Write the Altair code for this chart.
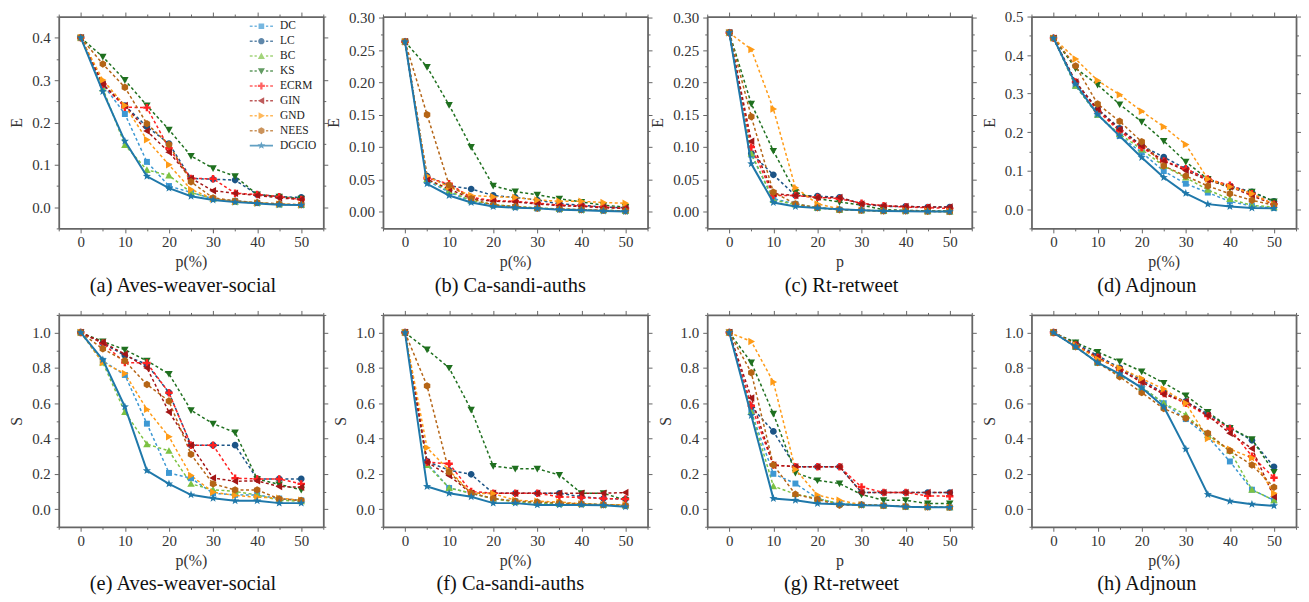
import math
import altair as alt
import pandas as pd

# ---------------- data ----------------
P = [0, 5, 10, 15, 20, 25, 30, 35, 40, 45, 50]
SERIES = ["DC", "LC", "BC", "KS", "ECRM", "GIN", "GND", "NEES", "DGCIO"]
COLORS = ["#3d98d3", "#1b5486", "#7cc243", "#1f701f", "#ff2121",
          "#a31616", "#ff9b17", "#b56516", "#1f78aa"]

E_AVES = {
    "DC":    [0.40, 0.290, 0.220, 0.107, 0.050, 0.035, 0.020, 0.015, 0.010, 0.007, 0.005],
    "LC":    [0.40, 0.290, 0.240, 0.190, 0.150, 0.068, 0.066, 0.064, 0.030, 0.025, 0.023],
    "BC":    [0.40, 0.280, 0.147, 0.088, 0.075, 0.035, 0.020, 0.013, 0.010, 0.007, 0.005],
    "KS":    [0.40, 0.355, 0.300, 0.240, 0.183, 0.121, 0.092, 0.073, 0.030, 0.025, 0.020],
    "ECRM":  [0.40, 0.290, 0.236, 0.235, 0.139, 0.068, 0.067, 0.033, 0.030, 0.025, 0.018],
    "GIN":   [0.40, 0.290, 0.240, 0.180, 0.130, 0.068, 0.039, 0.033, 0.028, 0.022, 0.018],
    "GND":   [0.40, 0.300, 0.240, 0.159, 0.100, 0.042, 0.020, 0.013, 0.010, 0.007, 0.005],
    "NEES":  [0.40, 0.338, 0.283, 0.197, 0.148, 0.060, 0.022, 0.015, 0.011, 0.008, 0.006],
    "DGCIO": [0.40, 0.273, 0.156, 0.073, 0.045, 0.026, 0.017, 0.012, 0.009, 0.006, 0.005],
}
E_SANDI = {
    "DC":    [0.263, 0.048, 0.030, 0.016, 0.010, 0.007, 0.005, 0.004, 0.003, 0.002, 0.001],
    "LC":    [0.263, 0.055, 0.040, 0.035, 0.025, 0.022, 0.018, 0.012, 0.010, 0.007, 0.006],
    "BC":    [0.263, 0.050, 0.032, 0.017, 0.011, 0.008, 0.006, 0.004, 0.003, 0.002, 0.001],
    "KS":    [0.263, 0.224, 0.165, 0.100, 0.040, 0.031, 0.026, 0.020, 0.015, 0.010, 0.007],
    "ECRM":  [0.263, 0.052, 0.043, 0.022, 0.017, 0.016, 0.013, 0.010, 0.009, 0.007, 0.005],
    "GIN":   [0.263, 0.050, 0.035, 0.020, 0.016, 0.015, 0.012, 0.009, 0.008, 0.006, 0.005],
    "GND":   [0.263, 0.055, 0.038, 0.025, 0.023, 0.022, 0.018, 0.016, 0.016, 0.014, 0.013],
    "NEES":  [0.263, 0.150, 0.041, 0.020, 0.010, 0.008, 0.005, 0.004, 0.003, 0.002, 0.001],
    "DGCIO": [0.263, 0.043, 0.025, 0.014, 0.008, 0.006, 0.005, 0.003, 0.002, 0.001, 0.000],
}
E_RT = {
    "DC":    [0.277, 0.088, 0.020, 0.012, 0.006, 0.003, 0.002, 0.001, 0.001, 0.0005, 0.0],
    "LC":    [0.277, 0.090, 0.057, 0.025, 0.024, 0.022, 0.012, 0.008, 0.008, 0.007, 0.007],
    "BC":    [0.277, 0.090, 0.018, 0.011, 0.006, 0.003, 0.002, 0.001, 0.001, 0.0005, 0.0],
    "KS":    [0.277, 0.167, 0.094, 0.030, 0.020, 0.015, 0.010, 0.003, 0.002, 0.001, 0.001],
    "ECRM":  [0.277, 0.100, 0.025, 0.025, 0.022, 0.020, 0.013, 0.009, 0.007, 0.006, 0.005],
    "GIN":   [0.277, 0.109, 0.028, 0.025, 0.022, 0.022, 0.012, 0.009, 0.008, 0.007, 0.007],
    "GND":   [0.277, 0.251, 0.159, 0.037, 0.012, 0.004, 0.002, 0.001, 0.001, 0.0005, 0.0],
    "NEES":  [0.277, 0.147, 0.030, 0.012, 0.006, 0.003, 0.002, 0.001, 0.001, 0.0005, 0.0],
    "DGCIO": [0.277, 0.074, 0.014, 0.008, 0.0056, 0.0036, 0.002, 0.001, 0.0005, 0.0003, 0.0],
}
E_ADJ = {
    "DC":    [0.444, 0.320, 0.245, 0.190, 0.147, 0.099, 0.066, 0.043, 0.020, 0.008, 0.003],
    "LC":    [0.444, 0.330, 0.260, 0.210, 0.165, 0.135, 0.105, 0.078, 0.060, 0.045, 0.020],
    "BC":    [0.444, 0.320, 0.245, 0.195, 0.155, 0.112, 0.082, 0.050, 0.026, 0.010, 0.005],
    "KS":    [0.444, 0.366, 0.323, 0.272, 0.227, 0.177, 0.123, 0.078, 0.055, 0.045, 0.020],
    "ECRM":  [0.444, 0.330, 0.255, 0.203, 0.160, 0.125, 0.105, 0.078, 0.062, 0.040, 0.013],
    "GIN":   [0.444, 0.330, 0.259, 0.207, 0.164, 0.125, 0.100, 0.075, 0.058, 0.035, 0.012],
    "GND":   [0.444, 0.390, 0.334, 0.297, 0.254, 0.214, 0.168, 0.078, 0.058, 0.040, 0.012],
    "NEES":  [0.444, 0.372, 0.273, 0.228, 0.175, 0.112, 0.086, 0.060, 0.040, 0.023, 0.010],
    "DGCIO": [0.444, 0.325, 0.246, 0.190, 0.134, 0.082, 0.041, 0.013, 0.007, 0.003, 0.002],
}
S_AVES = {
    "DC":    [1.0, 0.84, 0.76, 0.484, 0.205, 0.175, 0.090, 0.081, 0.080, 0.060, 0.050],
    "LC":    [1.0, 0.94, 0.87, 0.82, 0.66, 0.362, 0.362, 0.362, 0.171, 0.171, 0.171],
    "BC":    [1.0, 0.83, 0.55, 0.368, 0.33, 0.143, 0.110, 0.100, 0.080, 0.050, 0.045],
    "KS":    [1.0, 0.95, 0.903, 0.84, 0.766, 0.56, 0.484, 0.434, 0.171, 0.140, 0.110],
    "ECRM":  [1.0, 0.94, 0.83, 0.828, 0.659, 0.362, 0.362, 0.175, 0.171, 0.171, 0.143],
    "GIN":   [1.0, 0.944, 0.878, 0.80, 0.55, 0.362, 0.176, 0.158, 0.160, 0.128, 0.124],
    "GND":   [1.0, 0.83, 0.768, 0.565, 0.41, 0.19, 0.096, 0.077, 0.068, 0.062, 0.050],
    "NEES":  [1.0, 0.908, 0.84, 0.706, 0.612, 0.31, 0.143, 0.109, 0.109, 0.058, 0.049],
    "DGCIO": [1.0, 0.846, 0.58, 0.218, 0.143, 0.081, 0.062, 0.047, 0.047, 0.034, 0.034],
}
S_SANDI = {
    "DC":    [1.0, 0.26, 0.12, 0.09, 0.06, 0.045, 0.035, 0.03, 0.03, 0.025, 0.02],
    "LC":    [1.0, 0.27, 0.22, 0.197, 0.09, 0.09, 0.09, 0.09, 0.07, 0.06, 0.057],
    "BC":    [1.0, 0.25, 0.12, 0.09, 0.06, 0.04, 0.035, 0.03, 0.03, 0.025, 0.02],
    "KS":    [1.0, 0.904, 0.80, 0.563, 0.244, 0.229, 0.229, 0.193, 0.09, 0.09, 0.05],
    "ECRM":  [1.0, 0.266, 0.257, 0.10, 0.09, 0.09, 0.09, 0.07, 0.066, 0.06, 0.057],
    "GIN":   [1.0, 0.266, 0.19, 0.09, 0.09, 0.09, 0.09, 0.09, 0.09, 0.09, 0.094],
    "GND":   [1.0, 0.347, 0.22, 0.09, 0.088, 0.05, 0.045, 0.04, 0.03, 0.025, 0.025],
    "NEES":  [1.0, 0.698, 0.21, 0.09, 0.06, 0.045, 0.04, 0.035, 0.03, 0.025, 0.02],
    "DGCIO": [1.0, 0.128, 0.09, 0.07, 0.034, 0.034, 0.024, 0.024, 0.024, 0.022, 0.013],
}
S_RT = {
    "DC":    [1.0, 0.55, 0.20, 0.145, 0.06, 0.03, 0.025, 0.02, 0.015, 0.012, 0.01],
    "LC":    [1.0, 0.58, 0.44, 0.24, 0.24, 0.24, 0.095, 0.094, 0.094, 0.094, 0.094],
    "BC":    [1.0, 0.55, 0.13, 0.085, 0.06, 0.03, 0.025, 0.02, 0.015, 0.012, 0.01],
    "KS":    [1.0, 0.83, 0.54, 0.206, 0.163, 0.145, 0.083, 0.05, 0.05, 0.032, 0.032],
    "ECRM":  [1.0, 0.585, 0.25, 0.24, 0.24, 0.24, 0.125, 0.094, 0.094, 0.075, 0.073],
    "GIN":   [1.0, 0.63, 0.25, 0.24, 0.24, 0.24, 0.094, 0.094, 0.094, 0.094, 0.094],
    "GND":   [1.0, 0.95, 0.72, 0.225, 0.08, 0.05, 0.025, 0.02, 0.015, 0.012, 0.01],
    "NEES":  [1.0, 0.773, 0.25, 0.084, 0.055, 0.022, 0.025, 0.02, 0.015, 0.012, 0.01],
    "DGCIO": [1.0, 0.53, 0.06, 0.05, 0.032, 0.028, 0.022, 0.02, 0.013, 0.01, 0.01],
}
S_ADJ = {
    "DC":    [1.0, 0.92, 0.83, 0.76, 0.69, 0.60, 0.51, 0.41, 0.27, 0.11, 0.05],
    "LC":    [1.0, 0.94, 0.87, 0.80, 0.73, 0.66, 0.61, 0.54, 0.46, 0.39, 0.24],
    "BC":    [1.0, 0.92, 0.83, 0.76, 0.69, 0.60, 0.535, 0.42, 0.33, 0.11, 0.05],
    "KS":    [1.0, 0.944, 0.89, 0.837, 0.78, 0.715, 0.644, 0.55, 0.46, 0.396, 0.21],
    "ECRM":  [1.0, 0.93, 0.86, 0.79, 0.72, 0.655, 0.60, 0.527, 0.456, 0.30, 0.178],
    "GIN":   [1.0, 0.93, 0.86, 0.79, 0.72, 0.65, 0.61, 0.53, 0.43, 0.343, 0.07],
    "GND":   [1.0, 0.93, 0.85, 0.80, 0.74, 0.68, 0.60, 0.40, 0.34, 0.29, 0.09],
    "NEES":  [1.0, 0.92, 0.83, 0.75, 0.66, 0.57, 0.515, 0.43, 0.33, 0.25, 0.124],
    "DGCIO": [1.0, 0.92, 0.83, 0.766, 0.687, 0.58, 0.34, 0.083, 0.045, 0.028, 0.019],
}

CAPTIONS = ["(a) Aves-weaver-social", "(b) Ca-sandi-auths", "(c) Rt-retweet", "(d) Adjnoun",
            "(e) Aves-weaver-social", "(f) Ca-sandi-auths", "(g) Rt-retweet", "(h) Adjnoun"]

# ---------------- marker shapes ----------------
def star_path(r1=1.15, r2=0.48):
    pts = []
    for i in range(10):
        a = -math.pi / 2 + i * math.pi / 5
        r = r1 if i % 2 == 0 else r2
        pts.append(f"{r * math.cos(a):.3f},{r * math.sin(a):.3f}")
    return "M" + "L".join(pts) + "Z"

MARKERS = [
    "M-0.8,-0.8H0.8V0.8H-0.8Z",
    "M-0.9,0A0.9,0.9,0,1,0,0.9,0A0.9,0.9,0,1,0,-0.9,0Z",
    "M0,-1L1,0.8H-1Z",
    "M0,1L1,-0.8H-1Z",
    "M-0.33,-1H0.33V-0.33H1V0.33H0.33V1H-0.33V0.33H-1V-0.33H-0.33Z",
    "M-1,0L0.8,-1V1Z",
    "M1,0L-0.8,-1V1Z",
    "M0,-1L0.87,-0.5V0.5L0,1L-0.87,0.5V-0.5Z",
    star_path(),
]

def bar(a, b, h=0.21):
    return f"M{a},{-h}H{b}V{h}H{a}Z"

DASHES = bar(-3.3, -2.5) + bar(-1.95, -1.3) + bar(1.3, 1.95) + bar(2.5, 3.3)
LEGEND_PATHS = [DASHES + m for m in MARKERS[:-1]] + [bar(-3.3, 3.3, 0.27) + MARKERS[-1]]

# ---------------- styling helpers ----------------
AXIS_GRAY = "#666666"
LABEL_COLOR = "#333333"
XVALS = list(range(-5, 56, 5))
MSIZE = 56


def ticks(lo, hi, step):
    n0 = math.ceil(lo / step - 1e-9)
    n1 = math.floor(hi / step + 1e-9)
    return [round(i * step, 4) for i in range(n0, n1 + 1)]


def tick_cond(test):
    return {"condition": {"test": test, "value": 4.5}, "value": 2.5}


PANELS = [
    (E_AVES, "E", "p(%)", [-0.05, 0.45], 0.05, 20, ".1f", -8),
    (E_SANDI, "E", "p(%)", [-0.026, 0.302], 0.025, 40, ".2f", -5),
    (E_RT, "E", "p", [-0.026, 0.302], 0.025, 40, ".2f", 2),
    (E_ADJ, "E", "p(%)", [-0.05, 0.5], 0.05, 20, ".1f", -17),
    (S_AVES, "S", "p(%)", [-0.1, 1.1], 0.1, 10, ".1f", -8),
    (S_SANDI, "S", "p(%)", [-0.1, 1.1], 0.1, 10, ".1f", -5),
    (S_RT, "S", "p", [-0.1, 1.1], 0.1, 10, ".1f", 2),
    (S_ADJ, "S", "p(%)", [-0.1, 1.1], 0.1, 10, ".1f", -17),
]


def make_panel(idx):
    data, ytitle, xtitle, ydom, ystep, k, fmt, dx = PANELS[idx]
    rows = []
    for si, s in enumerate(SERIES):
        for p, v in zip(P, data[s]):
            rows.append({"p": p, "v": v, "s": s, "o": si})
    df = pd.DataFrame(rows)

    xs = alt.Scale(domain=[-5, 55], nice=False, zero=False)
    ys = alt.Scale(domain=ydom, nice=False, zero=False)
    cs = alt.Scale(domain=SERIES, range=COLORS)
    ss = alt.Scale(domain=SERIES, range=MARKERS)
    yvals = ticks(ydom[0], ydom[1], ystep)
    xtest = "datum.value % 10 === 0"
    ytest = f"abs(round(datum.value*{k})) % 2 === 0"

    common = dict(grid=False, domainColor=AXIS_GRAY, domainWidth=1.8,
                  tickColor=AXIS_GRAY, tickWidth=1)
    x_bottom = alt.Axis(orient="bottom", values=XVALS, tickSize=tick_cond(xtest),
                        labelExpr=f"{xtest} ? datum.label : ''", labelFlush=False,
                        labelOverlap=False, labelPadding=2, title=xtitle,
                        titlePadding=4, **common)
    y_left = alt.Axis(orient="left", values=yvals, format=fmt, tickSize=tick_cond(ytest),
                      labelExpr=f"{ytest} ? datum.label : ''", labelFlush=False,
                      labelOverlap=False, labelPadding=4, title=ytitle,
                      titlePadding=7, **common)
    x_top = alt.Axis(orient="top", values=XVALS, tickSize=tick_cond(xtest),
                     labels=False, title=None, **common)
    y_right = alt.Axis(orient="right", values=yvals, tickSize=tick_cond(ytest),
                       labels=False, title=None, **common)

    base = alt.Chart(df)
    dashed = base.transform_filter("datum.s !== 'DGCIO'")
    dg = base.transform_filter("datum.s === 'DGCIO'")

    line_a = dashed.mark_line(strokeWidth=1.5, strokeDash=[3, 2.5]).encode(
        x=alt.X("p:Q", scale=xs, axis=x_bottom),
        y=alt.Y("v:Q", scale=ys, axis=y_left),
        color=alt.Color("s:N", scale=cs, legend=None),
    )
    pts_b = dashed.mark_point(filled=True, size=MSIZE, opacity=1).encode(
        x=alt.X("p:Q", scale=xs, axis=None),
        y=alt.Y("v:Q", scale=ys, axis=None),
        color=alt.Color("s:N", scale=cs, legend=None),
        shape=alt.Shape("s:N", scale=ss, legend=None),
    )
    line_c = dg.mark_line(strokeWidth=2).encode(
        x=alt.X("p:Q", scale=xs, axis=x_top),
        y=alt.Y("v:Q", scale=ys, axis=y_right),
        color=alt.Color("s:N", scale=cs, legend=None),
    )
    pts_d = dg.mark_point(filled=True, size=MSIZE, opacity=1).encode(
        x=alt.X("p:Q", scale=xs, axis=None),
        y=alt.Y("v:Q", scale=ys, axis=None),
        color=alt.Color("s:N", scale=cs, legend=None),
        shape=alt.Shape("s:N", scale=ss, legend=None),
    )
    layers = [line_a, pts_b, line_c, pts_d]
    if idx == 0:
        leg = dict(orient="none", legendX=198, legendY=4, title=None,
                   labelFont="Liberation Serif", labelFontSize=11.5, labelColor="#222222",
                   labelAlign="left", symbolSize=50, rowPadding=2.0, labelOffset=13,
                   padding=0, symbolStrokeWidth=0)
        legend_layer = base.transform_filter("false").mark_point(filled=True, size=50).encode(
            x=alt.X("p:Q", scale=xs, axis=None),
            y=alt.Y("v:Q", scale=ys, axis=None),
            color=alt.Color("s:N", scale=cs, legend=alt.Legend(**leg)),
            shape=alt.Shape("s:N", scale=alt.Scale(domain=SERIES, range=LEGEND_PATHS),
                            legend=alt.Legend(**leg)),
        )
        layers.append(legend_layer)

    return alt.layer(*layers).resolve_scale(
        color="independent", shape="independent"
    ).resolve_axis(x="independent", y="independent").properties(
        width=266, height=213,
        title=alt.TitleParams(CAPTIONS[idx], orient="bottom", font="Liberation Serif",
                              fontSize=20.5, fontWeight="normal", color="#111111",
                              offset=6, anchor="middle", dx=dx),
    )


panels = [make_panel(i) for i in range(8)]

chart = alt.concat(
    *panels, columns=4, spacing={"row": 87, "column": 60}, bounds="flush"
).properties(
    padding={"left": 0, "top": 0, "right": 0, "bottom": 0}
).configure_view(stroke=None).configure_axis(
    labelFont="Liberation Serif", labelFontSize=15, labelColor=LABEL_COLOR,
    titleFont="Liberation Serif", titleFontSize=16, titleColor=LABEL_COLOR,
    titleFontWeight="normal",
)

chart.save("out.html", embed_options={"renderer": "svg", "actions": False})
